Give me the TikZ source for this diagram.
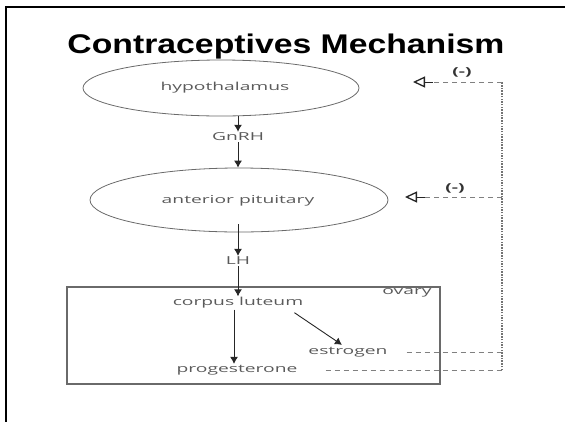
\documentclass[tikz,border=0pt]{standalone}
\usepackage{fontspec}
\setmainfont{Liberation Sans}
\newfontfamily\titlefont[FakeStretch=1.25]{Liberation Sans}
\newfontfamily\lblfont[FakeStretch=1.75]{Open Sans}
\usetikzlibrary{arrows.meta,shapes.geometric}
\definecolor{txtgray}{HTML}{5A5A5A}
\definecolor{linegray}{HTML}{6A6A6A}
\tikzset{
  lbl/.style={font=\lblfont\fontsize{11}{12}\selectfont, text=txtgray, inner sep=1pt},
  ell/.style={ellipse, draw=linegray, line width=0.8pt, inner sep=0pt},
  arr/.style={-{Latex[length=7pt,width=8pt]}, line width=0.9pt, draw=black!85},
  fbdash/.style={dash pattern=on 5pt off 4pt, draw=gray, line width=0.8pt},
  fbdot/.style={dash pattern=on 1.5pt off 1.2pt, draw=gray!90!black, line width=1.3pt},
  fbtip/.style={-{Triangle[open,length=12pt,width=11pt,line width=1.3pt]}, draw=black!85, line width=1pt},
  minus/.style={font=\lblfont\bfseries\fontsize{11}{12}\selectfont, text=black!80, inner sep=0pt}
}
\begin{document}
\begin{tikzpicture}[x=1pt,y=-1pt]
\useasboundingbox (0,0) rectangle (565,421);
% slide frame
\draw[line width=2.5pt, black] (6,422) -- (6,7) -- (566,7);
% title
\node[font=\titlefont\bfseries\fontsize{27}{30}\selectfont, anchor=base, inner sep=0pt] (title) at (286,53) {Contraceptives Mechanism};
% hypothalamus
\node[ell, minimum width=276pt, minimum height=56pt] (hyp) at (221,88) {};
\node[lbl] (hyptxt) at (225,88) {hypothalamus};
\node[lbl] (gnrh) at (238,137) {GnRH};
% pituitary
\node[ell, minimum width=298pt, minimum height=64pt] (pit) at (239,200) {};
\node[lbl] (pittxt) at (238,201) {anterior pituitary};
\node[lbl] (lh) at (238,261) {LH};
% ovary box
\node[draw=linegray, line width=1.6pt, minimum width=373pt, minimum height=97pt, inner sep=0pt] (box) at (253.5,335.5) {};
\node[lbl, anchor=north east] (ovary) at ([xshift=-8pt,yshift=-1pt]box.north east) {ovary};
\node[lbl] (cl) at (238,303) {corpus luteum};
\node[lbl] (prog) at (237,370) {progesterone};
\node[lbl] (est) at (348,352) {estrogen};
% main arrows
\draw[arr] (hyp.south -| gnrh.north) -- (gnrh.north);
\draw[arr] (gnrh.south) -- (pit.north -| gnrh.south);
\draw[arr] ([yshift=8pt]pit.south -| lh.north) -- (lh.north);
\draw[arr] (lh.south) -- (cl.north -| lh.south);
\draw[arr] ([xshift=-4pt]cl.south) -- ([xshift=-3pt]prog.north);
\draw[arr] ([xshift=-10pt,yshift=-3pt]cl.south east) -- ([xshift=-6pt,yshift=1pt]est.north);
% feedback
\coordinate (fb1) at (502,82);
\coordinate (fb2) at (502,197);
\coordinate (fbE) at (502,352);
\coordinate (fbP) at (502,370);
\coordinate (t1) at (413,82);
\coordinate (t2) at (405,197);
\draw[fbdash] ([xshift=18pt]est.east) -- (fbE);
\draw[fbdash] ([xshift=27pt]prog.east) -- (fbP);
\draw[fbdot] (fbP) -- (fb1);
\draw[fbdash] (fb1) -- ([xshift=20pt]t1);
\draw[fbtip] ([xshift=20pt]t1) -- (t1);
\draw[fbdash] (fb2) -- ([xshift=20pt]t2);
\draw[fbtip] ([xshift=20pt]t2) -- (t2);
\node[minus] (m1) at (462,72) {(-)};
\node[minus] (m2) at (455,188) {(-)};
\end{tikzpicture}
\end{document}
